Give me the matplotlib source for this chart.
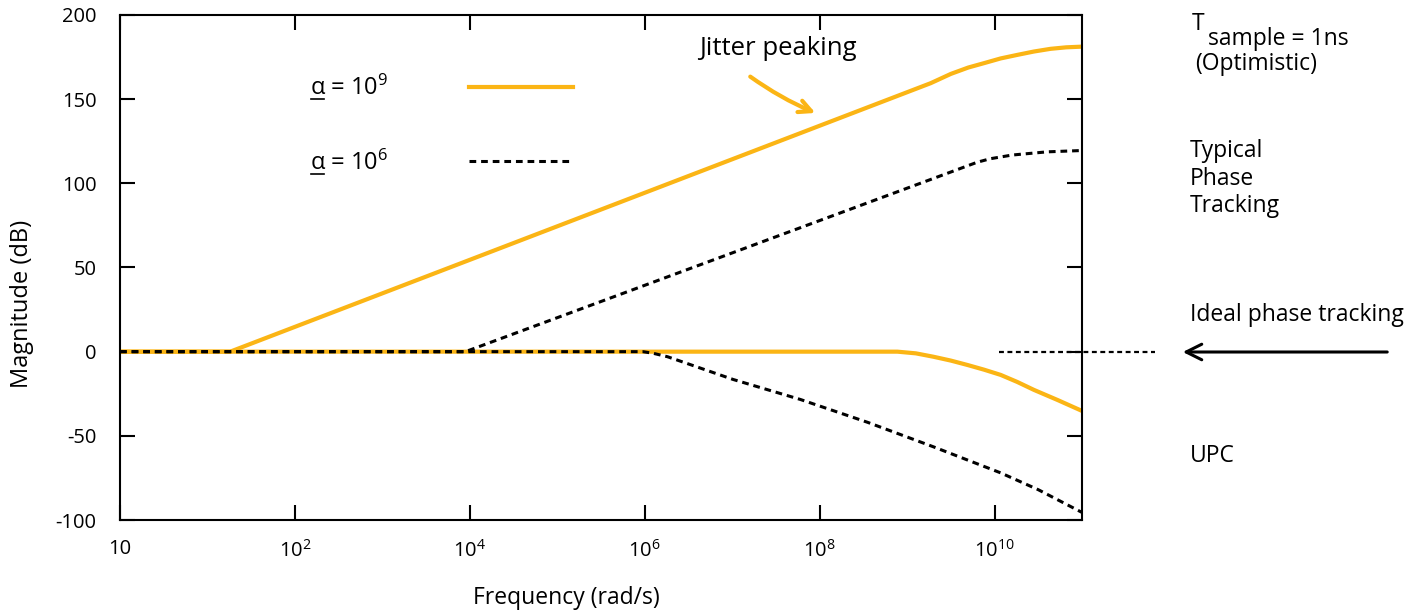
import numpy as np
import matplotlib
matplotlib.use('Agg')
import matplotlib.pyplot as plt
from matplotlib.lines import Line2D
from matplotlib.ticker import FixedLocator, NullLocator

plt.rcParams['font.family'] = ['Open Sans', 'DejaVu Sans']
plt.rcParams['mathtext.fontset'] = 'custom'
plt.rcParams['mathtext.rm'] = 'Open Sans'
plt.rcParams['mathtext.it'] = 'Open Sans:italic'
plt.rcParams['axes.unicode_minus'] = False

# curves, frequency given as log10(rad/s), magnitude in dB
a9_peak_logw = [0, 1.26, 9.27, 9.50, 9.70, 9.88, 10.07, 10.26, 10.45, 10.64, 10.82, 11.0]
a9_peak_db = [0, 0, 159.5, 165.0, 168.8, 171.4, 174.2, 176.3, 178.3, 179.9, 180.8, 181.2]

a6_peak_logw = [0, 3.95, 9.80, 9.95, 10.2, 10.6, 11.0]
a6_peak_db = [0, 0, 112.5, 114.6, 116.8, 118.7, 119.5]

a9_upc_logw = [0, 8.89, 9.10, 9.30, 9.50, 9.69, 9.88, 10.07, 10.26, 10.45, 10.72, 11.0]
a9_upc_db = [0, 0, -1, -3, -5.3, -7.9, -10.7, -13.8, -18, -22.7, -28.7, -35.2]

a6_upc_logw = [0, 5.98, 6.10, 6.26, 6.45, 7.01, 7.78, 8.55, 9.30, 10.07, 10.50, 11.0]
a6_upc_db = [0, 0, -1, -3, -6.4, -16.5, -28.4, -42, -56.5, -72, -82, -95.5]

ideal_logw = [10.05, 11.84]
ideal_db = [0, 0]

xtick_exp = [0, 2, 4, 6, 8, 10]
xtick_labels = ['10', '$10^2$', '$10^4$', '$10^6$', '$10^8$', '$10^{10}$']
yticks = [-100, -50, 0, 50, 100, 150, 200]

orange = '#FBB515'
dash = (0, (2.2, 1.6))

W, H = 1416, 616
fig = plt.figure(figsize=(W / 100, H / 100), dpi=100)
ax = fig.add_axes([120 / W, 1 - 520 / H, (1082 - 120) / W, (520 - 15) / H])

def w(logs):
    return 10 ** np.array(logs, dtype=float)

ax.plot(w(a9_upc_logw), a9_upc_db, color=orange, lw=3, zorder=2)
ax.plot(w(a6_upc_logw), a6_upc_db, color='black', lw=2.2, ls=dash, zorder=3)
ax.plot(w(a9_peak_logw), a9_peak_db, color=orange, lw=3, label='α = $10^9$')
ax.plot(w(a6_peak_logw), a6_peak_db, color='black', lw=2.2, ls=dash, label='α = $10^6$')
ax.plot(w(ideal_logw), ideal_db, color='black', lw=1.6, ls=dash, clip_on=False)

ax.set_xscale('log')
ax.set_xlim(1, 1e11)
ax.set_ylim(-100, 200)
ax.xaxis.set_major_locator(FixedLocator(w(xtick_exp)))
ax.xaxis.set_minor_locator(NullLocator())
ax.set_xticklabels(xtick_labels)
ax.set_yticks(yticks)
ax.tick_params(direction='in', length=11, width=1.5, top=True, right=True,
               labelsize=14.5, pad=14)
ax.tick_params(axis='y', pad=17)
for s in ax.spines.values():
    s.set_linewidth(1.5)

ax.set_xlabel('Frequency (rad/s)', fontsize=16.5)
ax.xaxis.set_label_coords(0.4636, -0.155)
ax.xaxis.label.set_va('center')
ax.set_ylabel('Magnitude (dB)', fontsize=17)
ax.yaxis.set_label_coords(-0.102, 0.428)
ax.yaxis.label.set_va('center')

leg = ax.legend(loc='upper left', bbox_to_anchor=(0.198, 0.880), frameon=False,
                fontsize=17, markerfirst=False, handlelength=4.4, handletextpad=3.4,
                labelspacing=2.1, borderpad=0, borderaxespad=0)

# jitter peaking note
fig.text(699 / W, 1 - 55 / H, 'Jitter peaking', fontsize=18.5, va='baseline')
ax.annotate('', xy=(818 / W, 1 - 114 / H), xytext=(748 / W, 1 - 75 / H),
            xycoords='figure fraction', textcoords='figure fraction',
            arrowprops=dict(arrowstyle='->', color=orange, lw=3,
                            connectionstyle='arc3,rad=0.06', mutation_scale=22))

# right side notes
fs = 16.5
fig.text(1192 / W, 1 - 30 / H, 'T', fontsize=fs, va='baseline')
fig.text(1208 / W, 1 - 45 / H, 'sample = 1ns', fontsize=fs, va='baseline')
fig.text(1195 / W, 1 - 70 / H, '(Optimistic)', fontsize=fs, va='baseline')
fig.text(1190 / W, 1 - 157 / H, 'Typical', fontsize=fs, va='baseline')
fig.text(1190 / W, 1 - 185 / H, 'Phase', fontsize=fs, va='baseline')
fig.text(1190 / W, 1 - 212 / H, 'Tracking', fontsize=fs, va='baseline')
fig.text(1190 / W, 1 - 321 / H, 'Ideal phase tracking', fontsize=fs, va='baseline')
fig.text(1190 / W, 1 - 462 / H, 'UPC', fontsize=fs, va='baseline')
ax.annotate('', xy=(1180 / W, 1 - 352 / H), xytext=(1390 / W, 1 - 352 / H),
            xycoords='figure fraction', textcoords='figure fraction',
            arrowprops=dict(arrowstyle='->', color='black', lw=2.2, mutation_scale=28))

# underline the alpha in the legend labels
fig.canvas.draw()
r = fig.canvas.get_renderer()
probe = fig.text(0, 0, 'α', fontsize=17)
aw = probe.get_window_extent(r).width
probe.remove()
for t in leg.get_texts():
    bb = t.get_window_extent(r)
    fig.lines.append(Line2D([bb.x0 + 1, bb.x0 + aw - 1], [bb.y0 + 2, bb.y0 + 2],
                            transform=None, color='black', lw=1.2))

fig.savefig('out.png', dpi=100)
